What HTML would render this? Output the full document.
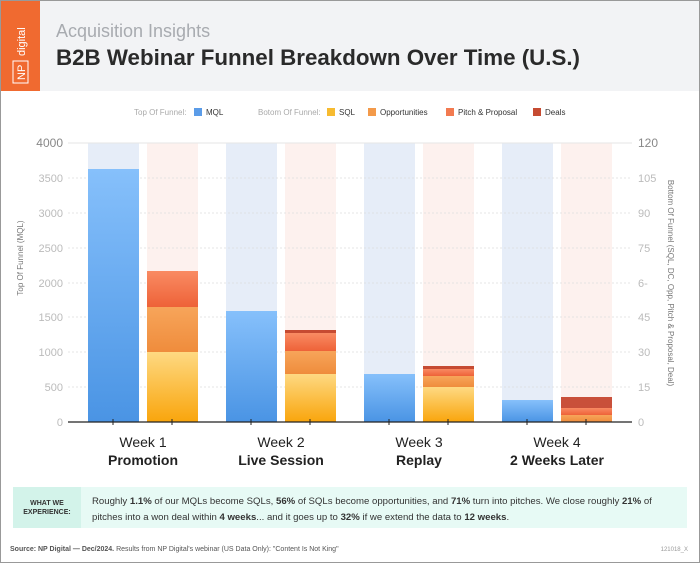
<!DOCTYPE html>
<html><head><meta charset="utf-8"><style>
body{margin:0;width:700px;height:563px;overflow:hidden;background:#fff;font-family:"Liberation Sans",sans-serif;}
</style></head><body>
<svg width="700" height="563" xmlns="http://www.w3.org/2000/svg" font-family="Liberation Sans, sans-serif">
<defs>
<linearGradient id="gb" x1="0" y1="0" x2="0" y2="1"><stop offset="0" stop-color="#86c0fb"/><stop offset="1" stop-color="#4a94e4"/></linearGradient>
<linearGradient id="gy" x1="0" y1="0" x2="0" y2="1"><stop offset="0" stop-color="#fed982"/><stop offset="1" stop-color="#f9a50c"/></linearGradient>
<linearGradient id="go" x1="0" y1="0" x2="0" y2="1"><stop offset="0" stop-color="#f7a55a"/><stop offset="1" stop-color="#ef8c3c"/></linearGradient>
<linearGradient id="gp" x1="0" y1="0" x2="0" y2="1"><stop offset="0" stop-color="#f98b63"/><stop offset="1" stop-color="#ee6238"/></linearGradient>
</defs>
<rect x="0.5" y="0.5" width="699" height="562" fill="#fff" stroke="#999"/>
<rect x="1" y="1" width="698" height="90" fill="#f2f3f5"/>
<rect x="1" y="1" width="39" height="90" fill="#f06a30"/>
<rect x="13" y="61" width="15" height="22" fill="none" stroke="#fff" stroke-width="1"/>
<text transform="translate(25,80) rotate(-90)" font-size="11" fill="#fff">NP</text>
<text transform="translate(25,56) rotate(-90)" font-size="11" fill="#fff">digital</text>
<text x="56" y="37" font-size="18" fill="#a8abb0">Acquisition Insights</text>
<text x="56" y="65" font-size="22" font-weight="bold" fill="#2a2a2a" textLength="524" lengthAdjust="spacingAndGlyphs">B2B Webinar Funnel Breakdown Over Time (U.S.)</text>
<!-- legend -->
<g font-size="8">
<text x="134" y="115" fill="#aaa">Top Of Funnel:</text>
<rect x="194" y="108" width="8" height="8" fill="#5b9ce8"/><text x="206" y="115" fill="#333">MQL</text>
<text x="258" y="115" fill="#aaa">Botom Of Funnel:</text>
<rect x="327" y="108" width="8" height="8" fill="#f7bb30"/><text x="339" y="115" fill="#333">SQL</text>
<rect x="368" y="108" width="8" height="8" fill="#f39a4a"/><text x="380" y="115" fill="#333">Opportunities</text>
<rect x="446" y="108" width="8" height="8" fill="#f27a50"/><text x="458" y="115" fill="#333">Pitch &amp; Proposal</text>
<rect x="533" y="108" width="8" height="8" fill="#c64b32"/><text x="545" y="115" fill="#333">Deals</text>
</g>
<!-- bg bars -->
<g fill="#e6edf8"><rect x="88" y="143" width="51" height="279"/><rect x="226" y="143" width="51" height="279"/><rect x="364" y="143" width="51" height="279"/><rect x="502" y="143" width="51" height="279"/></g>
<g fill="#fdf1ee"><rect x="147" y="143" width="51" height="279"/><rect x="285" y="143" width="51" height="279"/><rect x="423" y="143" width="51" height="279"/><rect x="561" y="143" width="51" height="279"/></g>
<!-- grid -->
<g stroke="#ddd" stroke-dasharray="2,2" stroke-width="0.8">
<line x1="68" y1="178" x2="632" y2="178"/><line x1="68" y1="213" x2="632" y2="213"/><line x1="68" y1="248" x2="632" y2="248"/><line x1="68" y1="283" x2="632" y2="283"/><line x1="68" y1="317" x2="632" y2="317"/><line x1="68" y1="352" x2="632" y2="352"/><line x1="68" y1="387" x2="632" y2="387"/>
</g>
<line x1="68" y1="143" x2="632" y2="143" stroke="#e6e6e6"/>
<!-- bars -->
<rect x="88" y="169" width="51" height="253" fill="url(#gb)"/>
<rect x="226" y="311" width="51" height="111" fill="url(#gb)"/>
<rect x="364" y="374" width="51" height="48" fill="url(#gb)"/>
<rect x="502" y="400" width="51" height="22" fill="url(#gb)"/>
<rect x="147" y="271" width="51" height="36" fill="url(#gp)"/>
<rect x="147" y="307" width="51" height="45" fill="url(#go)"/>
<rect x="147" y="352" width="51" height="70" fill="url(#gy)"/>
<rect x="285" y="330" width="51" height="3" fill="#c64b32"/>
<rect x="285" y="333" width="51" height="18" fill="url(#gp)"/>
<rect x="285" y="351" width="51" height="23" fill="url(#go)"/>
<rect x="285" y="374" width="51" height="48" fill="url(#gy)"/>
<rect x="423" y="366" width="51" height="3" fill="#c64b32"/>
<rect x="423" y="369" width="51" height="7" fill="url(#gp)"/>
<rect x="423" y="376" width="51" height="11" fill="url(#go)"/>
<rect x="423" y="387" width="51" height="35" fill="url(#gy)"/>
<rect x="561" y="397" width="51" height="11" fill="#c9503a"/>
<rect x="561" y="408" width="51" height="7" fill="url(#gp)"/>
<rect x="561" y="415" width="51" height="7" fill="url(#go)"/>
<!-- axis -->
<line x1="68" y1="422" x2="632" y2="422" stroke="#222" stroke-width="1.3"/>
<g stroke="#222"><line x1="113" y1="419" x2="113" y2="425"/><line x1="172" y1="419" x2="172" y2="425"/><line x1="251" y1="419" x2="251" y2="425"/><line x1="310" y1="419" x2="310" y2="425"/><line x1="389" y1="419" x2="389" y2="425"/><line x1="448" y1="419" x2="448" y2="425"/><line x1="527" y1="419" x2="527" y2="425"/><line x1="586" y1="419" x2="586" y2="425"/></g>
<g font-size="11" fill="#bbb" text-anchor="end">
<text x="63" y="147" fill="#888" font-size="12">4000</text><text x="63" y="182">3500</text><text x="63" y="217">3000</text><text x="63" y="252">2500</text><text x="63" y="287">2000</text><text x="63" y="321">1500</text><text x="63" y="356">1000</text><text x="63" y="391">500</text><text x="63" y="426">0</text>
</g>
<g font-size="11" fill="#bbb">
<text x="638" y="147" fill="#888" font-size="12">120</text><text x="638" y="182">105</text><text x="638" y="217">90</text><text x="638" y="252">75</text><text x="638" y="287">6-</text><text x="638" y="321">45</text><text x="638" y="356">30</text><text x="638" y="391">15</text><text x="638" y="426">0</text>
</g>
<text transform="translate(23,258) rotate(-90)" font-size="8" fill="#777" text-anchor="middle">Top Of Funnel (MQL)</text>
<text transform="translate(668,283) rotate(90)" font-size="8" fill="#777" text-anchor="middle">Bottom Of Funnel (SQL, DC, Opp, Pitch &amp; Proposal, Deal)</text>
<g text-anchor="middle" fill="#222">
<text x="143" y="447" font-size="14">Week 1</text><text x="143" y="465" font-size="14" font-weight="bold">Promotion</text>
<text x="281" y="447" font-size="14">Week 2</text><text x="281" y="465" font-size="14" font-weight="bold">Live Session</text>
<text x="419" y="447" font-size="14">Week 3</text><text x="419" y="465" font-size="14" font-weight="bold">Replay</text>
<text x="557" y="447" font-size="14">Week 4</text><text x="557" y="465" font-size="14" font-weight="bold">2 Weeks Later</text>
</g>
<!-- footer box -->
<rect x="13" y="487" width="674" height="41" fill="#e7faf5"/>
<rect x="13" y="487" width="68" height="41" fill="#d3f3ea"/>
<text x="47" y="505" font-size="7" font-weight="bold" fill="#333" text-anchor="middle">WHAT WE</text>
<text x="47" y="514" font-size="7" font-weight="bold" fill="#333" text-anchor="middle">EXPERIENCE:</text>
<text x="92" y="504" font-size="9.6" fill="#333">Roughly <tspan font-weight="bold">1.1%</tspan> of our MQLs become SQLs, <tspan font-weight="bold">56%</tspan> of SQLs become opportunities, and <tspan font-weight="bold">71%</tspan> turn into pitches. We close roughly <tspan font-weight="bold">21%</tspan> of</text>
<text x="92" y="520" font-size="9.6" fill="#333">pitches into a won deal within <tspan font-weight="bold">4 weeks</tspan>... and it goes up to <tspan font-weight="bold">32%</tspan> if we extend the data to <tspan font-weight="bold">12 weeks</tspan>.</text>
<text x="10" y="551" font-size="7" fill="#555"><tspan font-weight="bold">Source:  NP Digital — Dec/2024.</tspan> Results from NP Digital's webinar (US Data Only): "Content Is Not King"</text>
<text x="688" y="551" font-size="6" fill="#999" text-anchor="end">121018_X</text>
</svg>
</body></html>
